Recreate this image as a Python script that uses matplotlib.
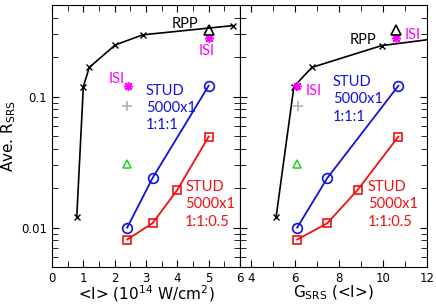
import matplotlib
matplotlib.use("Agg")
import matplotlib.pyplot as plt
from matplotlib.ticker import MultipleLocator, FixedLocator, LogLocator, NullFormatter
import numpy as np

plt.rcParams['mathtext.default'] = 'regular'

# left panel: vs mean intensity (1e14 W/cm2)
rpp_I = [0.79, 1.0, 1.19, 2.02, 2.9, 5.77]
rpp_R = [0.012, 0.119, 0.167, 0.248, 0.296, 0.348]
stud1_I = [2.4, 3.21, 5.0]
stud1_R = [0.010, 0.0239, 0.121]
stud2_I = [2.4, 3.21, 4.0, 5.0]
stud2_R = [0.0081, 0.0108, 0.0194, 0.0495]
isi_I = [2.42, 5.0]
isi_R = [0.121, 0.28]
rpptri_I = [5.0]
rpptri_R = [0.323]
plus_I = [2.38]
plus_R = [0.084]
green_I = [2.4]
green_R = [0.0306]

# right panel: vs gain G_SRS
rpp_G = [5.14, 5.95, 6.77, 9.94, 13.0]
rpp_RG = [0.012, 0.119, 0.167, 0.245, 0.285]
stud1_G = [6.1, 7.47, 10.7]
stud2_G = [6.1, 7.47, 8.85, 10.7]
isi_G = [6.1, 10.57]
rpptri_G = [10.57]
plus_G = [6.12]
green_G = [6.1]

fig = plt.figure(figsize=(4.36, 3.06), dpi=100)
W, H = 436, 306
axL = fig.add_axes([52/W, 1-267/H, (240-52)/W, (267-5)/H])
axR = fig.add_axes([240/W, 1-267/H, (427-240)/W, (267-5)/H])

txt = dict(fontsize=10.5, family="Lato")

def draw(ax, xr, xs1, xs2, xisi, xtri, xplus, xgreen, rr):
        ax.plot(xr, rr, color="black", marker="x", ms=4, mew=1, lw=1.2)
        ax.plot(xs1, stud1_R, color="#1010e0", marker="o", ms=7, mfc="none", mew=1.2, lw=1.3)
        ax.plot(xs2, stud2_R, color="#f01010", marker="s", ms=6, mfc="none", mew=1.2, lw=1.3)
        ax.plot(xisi, isi_R, ls="none", marker=(8, 2, 0), color="magenta", ms=6.5, mew=1.1)
        ax.plot(xtri, rpptri_R, ls="none", marker="^", color="black", ms=7, mfc="none", mew=1.2)
        ax.plot(xplus, plus_R, ls="none", marker="+", color="#b0b0b0", ms=7, mew=1.2)
        ax.plot(xgreen, green_R, ls="none", marker="^", color="#20d020", ms=6, mfc="none", mew=1.1)
        ax.set_yscale("log")
        ax.set_ylim(0.005, 0.5)
        ax.tick_params(which="both", direction="in", top=True, right=True, labelsize=8.5)
        ax.tick_params(which="major", length=5)
        ax.tick_params(which="minor", length=4)
        ax.yaxis.set_major_locator(FixedLocator([0.01, 0.1]))
        ax.yaxis.set_minor_locator(LogLocator(base=10, subs=np.arange(2, 10)))
        ax.yaxis.set_minor_formatter(NullFormatter())

draw(axL, rpp_I, stud1_I, stud2_I, isi_I, rpptri_I, plus_I, green_I, rpp_R)
axL.set_xlim(0, 6)
axL.xaxis.set_major_locator(MultipleLocator(1))
axL.xaxis.set_minor_locator(MultipleLocator(0.5))
axL.set_yticklabels(["0.01", "0.1"])
axL.set_xlabel("<I> (10$^{14}$ W/cm$^2$)", fontsize=11, labelpad=-1)
axL.set_ylabel("Ave. R$_{SRS}$", fontsize=11, labelpad=2)

draw(axR, rpp_G, stud1_G, stud2_G, isi_G, rpptri_G, plus_G, green_G, rpp_RG)
axR.set_xlim(3.5, 12)
axR.xaxis.set_major_locator(FixedLocator([4, 6, 8, 10, 12]))
axR.xaxis.set_minor_locator(MultipleLocator(1))
axR.set_yticklabels([])
axR.set_xlabel("G$_{SRS}$ (<I>)", fontsize=11, labelpad=-1)

axL.text(3.83, 0.36, "RPP", color="black", ha="left", va="center", **txt)
axL.text(4.95, 0.222, "ISI", color="magenta", ha="center", va="center", **txt)
axL.text(2.33, 0.135, "ISI", color="magenta", ha="right", va="center", **txt)
axL.text(3.0, 0.082, "STUD\n5000x1\n1:1:1", color="#1010e0", ha="left", va="center",
         linespacing=1.3, **txt)
axL.text(4.25, 0.015, "STUD\n5000x1\n1:1:0.5", color="#f01010", ha="left", va="center",
         linespacing=1.3, **txt)

axR.text(8.5, 0.268, "RPP", color="black", ha="left", va="center", **txt)
axR.text(11.0, 0.297, "ISI", color="magenta", ha="left", va="center", **txt)
axR.text(6.5, 0.111, "ISI", color="magenta", ha="left", va="center", **txt)
axR.text(7.73, 0.095, "STUD\n5000x1\n1:1:1", color="#1010e0", ha="left", va="center",
         linespacing=1.3, **txt)
axR.text(9.32, 0.015, "STUD\n5000x1\n1:1:0.5", color="#f01010", ha="left", va="center",
         linespacing=1.3, **txt)

fig.savefig("out.png", dpi=100)
